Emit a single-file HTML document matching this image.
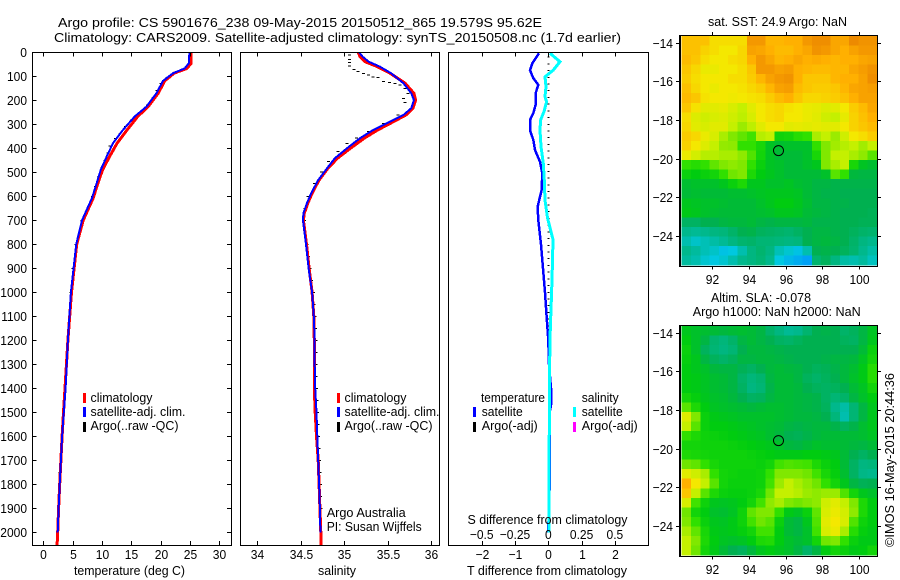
<!DOCTYPE html>
<html>
<head>
<meta charset="utf-8">
<title>Argo profile</title>
<style>
html,body{margin:0;padding:0;background:#fff;}
svg{display:block;}
text{font-family:"Liberation Sans",sans-serif;font-size:13px;fill:#000;}
.frame{fill:none;stroke:#000;stroke-width:1;shape-rendering:crispEdges;}
.curve{fill:none;stroke-linejoin:miter;shape-rendering:crispEdges;}
</style>
</head>
<body>
<svg id="chart" xmlns="http://www.w3.org/2000/svg" width="900" height="580" viewBox="0 0 900 580">
<rect width="900" height="580" fill="#fff"/>
<text x="58" y="27" textLength="484" lengthAdjust="spacingAndGlyphs">Argo profile: CS 5901676_238 09-May-2015 20150512_865 19.579S 95.62E</text>
<text x="54" y="42" textLength="567" lengthAdjust="spacingAndGlyphs">Climatology: CARS2009. Satellite-adjusted climatology: synTS_20150508.nc (1.7d earlier)</text>

<g id="maps"></g>
<g id="plots"></g>

<rect class="frame" x="32.5" y="52.5" width="199" height="493"/>
<rect class="frame" x="240.5" y="52.5" width="199" height="493"/>
<rect class="frame" x="448.5" y="52.5" width="200" height="493"/>
<path d="M680.5 35.5H877.5V266.5H680.5ZM679.5 35V267M680 266.5H878" fill="none" stroke="#000" stroke-width="1" shape-rendering="crispEdges"/>
<path d="M680.5 325.5H877.5V556.5H680.5ZM679.5 325V557M680 556.5H878" fill="none" stroke="#000" stroke-width="1" shape-rendering="crispEdges"/>

<text x="74" y="575" textLength="111" lengthAdjust="spacingAndGlyphs">temperature (deg C)</text>
<text x="318" y="575" textLength="38" lengthAdjust="spacingAndGlyphs">salinity</text>
<text x="467" y="575" textLength="160" lengthAdjust="spacingAndGlyphs">T difference from climatology</text>
<text x="467.5" y="524" textLength="160" lengthAdjust="spacingAndGlyphs">S difference from climatology</text>

<g>
<rect x="83" y="393" width="3" height="10" fill="#f00"/>
<rect x="83" y="407" width="3" height="10" fill="#00f"/>
<rect x="83" y="422" width="3" height="10" fill="#000"/>
<text x="90.5" y="402" textLength="62" lengthAdjust="spacingAndGlyphs">climatology</text>
<text x="90.5" y="416" textLength="95" lengthAdjust="spacingAndGlyphs">satellite-adj. clim.</text>
<text x="90.5" y="430" textLength="88" lengthAdjust="spacingAndGlyphs">Argo(..raw -QC)</text>
</g>
<g>
<rect x="337" y="393" width="3" height="10" fill="#f00"/>
<rect x="337" y="407" width="3" height="10" fill="#00f"/>
<rect x="337" y="422" width="3" height="10" fill="#000"/>
<text x="344.5" y="402" textLength="62" lengthAdjust="spacingAndGlyphs">climatology</text>
<text x="344.5" y="416" textLength="95" lengthAdjust="spacingAndGlyphs">satellite-adj. clim.</text>
<text x="344.5" y="430" textLength="88" lengthAdjust="spacingAndGlyphs">Argo(..raw -QC)</text>
</g>
<text x="326.7" y="517" textLength="79" lengthAdjust="spacingAndGlyphs">Argo Australia</text>
<text x="326.7" y="531" textLength="95" lengthAdjust="spacingAndGlyphs">PI: Susan Wijffels</text>
<g>
<text x="481" y="402" textLength="64" lengthAdjust="spacingAndGlyphs">temperature</text>
<rect x="473" y="407" width="3" height="10" fill="#00f"/>
<rect x="473" y="422" width="3" height="10" fill="#000"/>
<text x="481.7" y="416" textLength="41" lengthAdjust="spacingAndGlyphs">satellite</text>
<text x="481.7" y="430" textLength="56" lengthAdjust="spacingAndGlyphs">Argo(-adj)</text>
<text x="581.7" y="402" textLength="37" lengthAdjust="spacingAndGlyphs">salinity</text>
<rect x="573" y="407" width="3" height="10" fill="#0ff"/>
<rect x="573" y="422" width="3" height="10" fill="#f0f"/>
<text x="581.7" y="416" textLength="41" lengthAdjust="spacingAndGlyphs">satellite</text>
<text x="581.7" y="430" textLength="56" lengthAdjust="spacingAndGlyphs">Argo(-adj)</text>
</g>

<text x="708" y="26" textLength="139" lengthAdjust="spacingAndGlyphs">sat. SST: 24.9 Argo: NaN</text>
<text x="711" y="302" textLength="100" lengthAdjust="spacingAndGlyphs">Altim. SLA: -0.078</text>
<text x="692.7" y="316" textLength="168" lengthAdjust="spacingAndGlyphs">Argo h1000: NaN h2000: NaN</text>
<text transform="translate(894,547) rotate(-90)" textLength="174" lengthAdjust="spacingAndGlyphs">©IMOS 16-May-2015 20:44:36</text>
</svg>

<script>
// ---------- temperature profile data ----------
const tempDepths = [0,46,67,87,119,170,226,267,323,378,434,489,545,607,700,800,1000,1200,1400,1500,1600,1700,1800,1900,2000];
const tempSatellite = [24.9,24.8,24.1,22.1,20.4,19.3,17.6,15.6,13.6,11.9,10.8,9.8,9.1,8.3,6.6,5.6,4.7,4.2,3.8,3.5,3.2,3.0,2.8,2.6,2.45];
const tempClimDepths = [0,46,67,87,119,170,226,267,323,378,434,489,545,607,700,800,1000,1200,1400,1500,1600,1700,1800,1900,2000,2053];
const tempClimatology = [25.2,25.2,24.5,22.3,20.7,19.6,17.9,16.1,14.3,12.6,11.3,10.1,9.3,8.5,6.8,5.7,4.8,4.2,3.7,3.45,3.2,3.0,2.8,2.6,2.45,2.35];
const tempArgoDepths = [20,50,70,85,105,130,160,190,220,250,280,310,340,360,390,420,450,480,520,560,600,700,800,900,1000,1100,1200,1300,1400,1450,1500,1550,1600,1650,1700,1750,1800,1850,1900,1950];
const tempArgo = [24.8,24.7,24.2,22.3,21.0,20.0,19.3,18.6,17.7,16.4,15.0,13.9,13.0,12.2,11.3,10.9,10.4,9.9,9.3,8.8,8.3,6.5,5.5,5.0,4.6,4.4,4.2,4.0,3.7,3.6,3.4,3.3,3.2,3.1,2.9,2.8,2.7,2.65,2.55,2.45];

// ---------- salinity profile data ----------
const salDepths = [0,18,39,60,88,129,171,199,233,261,296,324,358,400,442,484,532,587,629,671,699,800,900,1000,1100,1200,1300,1400,1500,1600,1700,1800,1900,2000];
const salSatellite = [35.17,35.21,35.28,35.41,35.54,35.68,35.77,35.80,35.77,35.68,35.49,35.33,35.18,35.03,34.89,34.80,34.70,34.62,34.57,34.53,34.525,34.56,34.59,34.63,34.65,34.66,34.66,34.665,34.68,34.69,34.70,34.71,34.72,34.725];
const salClimDepths = [0,18,39,60,88,129,171,199,233,261,296,324,358,400,442,484,532,587,629,671,699,800,900,1000,1100,1200,1300,1400,1500,1600,1700,1800,1900,2000,2053];
const salClimatology = [35.16,35.18,35.24,35.38,35.53,35.70,35.80,35.82,35.79,35.71,35.53,35.38,35.23,35.07,34.92,34.81,34.71,34.63,34.58,34.54,34.53,34.565,34.595,34.63,34.65,34.655,34.655,34.655,34.665,34.68,34.70,34.71,34.72,34.73,34.73];
const salArgoDepths = [11,29,43,57,71,81,88,95,102,106,122,125,129,136,150,171,192,210,261,296,331,358,379,414,456,498,546,600,650,700,750,800,850,900,950,1000,1050,1100,1150,1200,1250,1300,1350,1400,1450,1500,1550,1600,1650,1700,1750,1800,1850,1900];
const salArgo = [35.06,35.06,35.06,35.06,35.11,35.16,35.22,35.28,35.33,35.39,35.45,35.52,35.58,35.64,35.70,35.73,35.68,35.70,35.62,35.45,35.28,35.14,35.03,34.93,34.82,34.74,34.66,34.585,34.55,34.54,34.55,34.574,34.589,34.604,34.624,34.644,34.654,34.664,34.669,34.674,34.674,34.674,34.677,34.679,34.686,34.694,34.699,34.704,34.709,34.714,34.719,34.724,34.729,34.734];

// ---------- difference panel data ----------
const diffTDepths = [4,46,74,108,136,171,213,254,282,324,365,407,456,505,574,644,699,800,900,1000,1100,1200,1300,1400,1470,1500,1600,1800,1850,2000];
const diffTSatellite = [-0.28,-0.48,-0.55,-0.45,-0.30,-0.38,-0.37,-0.45,-0.55,-0.55,-0.45,-0.40,-0.25,-0.18,-0.20,-0.32,-0.30,-0.22,-0.16,-0.10,-0.05,0,0.02,0.08,0.08,0.04,0.05,0.05,0.02,0];
const diffSDepths = [4,39,74,102,143,185,206,247,282,324,393,463,532,616,692,780,900,1000,1150,1300,1500,1700,2000];
const diffSSatellite = [0.0125,0.0875,0.0375,-0.025,-0.0175,-0.025,-0.0125,-0.0325,-0.0575,-0.0625,-0.055,-0.0375,-0.03,-0.025,-0.005,0.035,0.03,0.025,0.015,0.01,0.008,0.006,0.005];
const diffArgoDepths = [20,48,76,104,132,160,188,216,244,272,300,328,356,384,412,440,468,496,524,552,580,608,636,664,692,720,748,776,804,832,860,888,916,944,972,1000,1028,1056,1084,1112,1140,1168,1196];
const diffArgoValues = [0,0,0,0,0,0,0,0,0,0,0,0,0,0,0,0,0,0,0,0,0,0,0,0,0,0,0,0,0,0,0,0,0,0,0,0,0,0,0,0,0,0,0];

// ---------- tick labels ----------
const depthTicks = [0,100,200,300,400,500,600,700,800,900,1000,1100,1200,1300,1400,1500,1600,1700,1800,1900,2000];
const tempTicks = [0,5,10,15,20,25,30];
const salTicks = [34,34.5,35,35.5,36];
const diffTTicks = [-2,-1,0,1,2];
const diffSTicks = [-0.5,-0.25,0,0.25,0.5];
const lonTicks = [92,94,96,98,100];
const latTicks = [-14,-16,-18,-20,-22,-24];

// ---------- map data (colour level per 0.5 degree cell, read by eye) ----------
const sstLevels = [
[8.7,8.7,8.7,8.2,8.2,8.2,8.2,9.5,9.5,8.9,8.9,9,9,9.5,9.7,9.7,9.2,9.2,9.8,9.6,9.6],
[8.7,8.7,8.4,8.2,8,8,8.3,9.3,9.2,9,8.8,8.8,9,9.2,9.6,9.5,9.2,9,9.3,9.5,9.5],
[8.8,8.6,8.2,8,8,8.2,8.3,9,9.5,9.2,8.9,9,9.2,9,9.1,9,8.9,9,9,9.2,9.3],
[8.6,8.3,7.8,7.8,8,8,8.2,8.6,9.5,9.5,9.3,9.4,9,8.9,8.8,8.8,8.9,8.9,9.2,9.4,9.6],
[8.5,8.2,8,8,8,8.2,8.2,8.5,8.9,9.3,9.5,9.6,9,8.6,8.6,8.6,8.9,9,9,9.3,9.7],
[8.7,8.3,8,7.8,8,8,8.1,8.3,8.5,8.9,9.3,9.4,8.8,8.6,8.5,8.5,8.6,8.9,9.2,9.3,9.4],
[8.8,8.6,8.1,8,8,7.9,8,8.1,8.2,8.5,8.8,9,8.6,8.3,8.3,8.4,8.5,8.7,9,9.3,9.3],
[8.6,8.1,7.6,7.6,7.7,7.4,7,7.6,8,8.2,8.3,8.1,8,7.8,7.7,7.5,7.6,8,8.5,8.8,9.2],
[8.2,7.5,7.2,7.4,7.5,7.2,6.9,7.4,8,8.2,8.3,8,8,7.8,7.6,7.2,7,7.7,8.4,8.7,9],
[8.3,7.6,7.4,7.6,7.6,7,6.4,6.9,7.6,8,8,7.6,7.7,7.6,7.7,7.6,7.6,8,8.4,8.6,8.8],
[8.5,8.3,7.8,7.4,6.6,6,5.6,5.2,6.8,7,4.3,4.4,4.8,5,6.6,7,6.4,7.2,8,8.2,8.5],
[8.4,8,7.5,7,6.3,6.2,5,5,4.5,3.7,3.5,3.6,3.6,3.6,5,6,6.5,6.8,7,6.5,7],
[7.8,7.3,6.8,6.8,6.6,6.6,6.2,5.4,4.4,3.7,3.4,3.4,3.4,3.6,4.5,6,7,7,6.6,6.2,5.5],
[5,4.8,5,5.6,6,6.2,6,5,4.2,3.7,3.6,3.4,3.4,3.6,3.8,6,6.6,7,4.5,3.7,3.5],
[4.2,4,4.2,4.4,5,5.8,6,4.6,4,3.8,3.6,3.4,3.4,3.4,3.4,3.6,5.5,5,3.3,3.2,3.2],
[3.5,3.6,3.6,3.6,3.8,4.2,4.6,3.8,3.8,3.6,3.6,3.7,3.5,3.4,3.2,3.2,3.1,3.1,3.1,3.1,3.1],
[3.4,3.5,3.4,3.4,3.4,3.5,3.5,3.6,3.7,3.8,3.8,3.8,3.7,3.4,3.2,3.1,3.1,3,3,3,3],
[3.8,3.7,3.6,3.6,3.5,3.4,3.4,3.4,3.6,3.8,4,4,3.8,3.5,3.2,3.2,3.1,3.1,3,3,3],
[3.9,3.8,3.6,3.5,3.4,3.4,3.4,3.4,3.5,3.6,3.8,3.8,3.7,3.4,3.3,3.2,3.1,3,3,3,2.9],
[2.7,2.7,3,3,3.2,3.3,3.3,3.4,3.2,3.1,3.2,3.2,3.2,3.3,3.1,3.1,3.1,3,3,2.9,2.9],
[2,1.9,2,2.2,2.3,2.6,3,3.1,2.8,2.7,2.6,2.5,2.7,3,3.2,3.2,3.1,3,2.8,2.6,2.5],
[1.6,1.3,1.5,1.7,1.9,2.2,2.5,2.6,2.4,2.4,2.3,2.2,2.3,3,3.2,3.3,3.2,3,2.6,2.2,2],
[2,1.8,1.5,1.3,0.9,1,1.6,2.2,2.5,2.2,1.5,1.2,0.9,1.6,3,3.1,3,2.8,2.5,2,1.7],
[1.8,1.6,1.2,1,1.2,1.6,2,2.2,2.4,2,1,0.7,0.5,0.3,2.5,2.8,2.2,1.7,1.6,1.8,1.4]
];
const slaLevels = [
[3.8,3.6,3.5,3.4,3.3,3.4,3.5,3.4,3.2,2.6,2.2,1.9,2,2.5,3,3.1,3,2.6,2.8,3.2,3.7],
[4,3.6,3.2,2.5,2.3,2.6,3.2,3.4,3.2,3,2.7,2.6,2.8,3,3,3,3,2.8,2.7,3.2,3.8],
[4.2,3.6,2.8,2.4,2.2,2.4,3,3.3,3.3,3.2,3.1,3,3,3,3,3,3,3,3,3.4,4.2],
[4.1,3.8,3.2,2.8,2.6,2.8,3.2,3.2,3.3,3.3,3.2,3.1,3,3,3,3.1,3.2,3.2,3.3,3.7,4.4],
[4,3.8,3.6,3.3,3.2,3.2,2.9,2.7,3,3.3,3.4,3.3,3.2,3,2.8,2.9,3.1,3.3,3.5,3.9,4.8],
[4,3.9,3.7,3.5,3.4,3.2,2.6,2.3,2.5,3.2,3.4,3.4,3.2,2.8,2.6,2.8,3,3.3,3.6,3.9,4.8],
[4,3.9,3.7,3.5,3.4,3.2,2.7,2.2,2.4,3.1,3.4,3.4,3.3,3,2.8,2.7,2.8,3,3.4,3.7,4.4],
[4.4,4.1,3.8,3.6,3.5,3.3,3,2.7,2.8,3.2,3.4,3.4,3.3,3.2,3.1,2.7,2.4,2.6,3.2,3.6,4],
[5.5,4.6,4,3.7,3.6,3.5,3.4,3.3,3.4,3.5,3.5,3.4,3.3,3.2,3.1,2.8,2,1.7,2.4,3.2,3.8],
[7.5,6,4.2,3.9,3.8,3.7,3.6,3.6,3.6,3.6,3.5,3.4,3.3,3.3,3.2,3,2.3,1.6,2.4,3.2,3.8],
[7,5.5,4.2,4,4,3.9,3.8,3.7,3.6,3.5,3.4,3.2,3.1,3.2,3.3,3.3,3.1,2.8,3.1,3.5,3.8],
[5,4.6,4.3,4.2,4.1,4,3.9,3.8,3.7,3.5,3.3,3,2.9,3.1,3.3,3.4,3.4,3.4,3.4,3.5,3.7],
[4.4,4.4,4.3,4.3,4.3,4.2,4.1,4,3.9,3.8,3.6,3.3,3.2,3.4,3.6,3.5,3.5,3.4,3.3,3.2,3.4],
[4.6,4.5,4.4,4.3,4.3,4.3,4.3,4.2,4.1,4,3.9,3.9,3.9,4,4,3.9,3.8,3.4,3,2.7,3],
[5.8,5.6,5,4.5,4.3,4.3,4.3,4.3,4.2,4.4,5.2,5.4,5.3,5.2,4.6,4.2,4,3.4,2.7,2.2,2.3],
[7.6,7.2,6.6,5,4.4,4.3,4.2,4.2,4.3,5,6,6,6,5.8,5.2,4.5,4.1,3.5,2.7,2.1,2],
[9,8,7,5.5,4.4,4.2,4.2,4.2,4.3,5.2,6.4,7,6.6,6.2,5.8,5,4.4,3.8,3.2,2.9,3],
[8.6,7,5.5,4.6,4.2,4.1,4.1,4.2,4.5,5.8,7,7,6.8,6.4,6.2,6.4,6.4,5.4,4.4,3.8,3.6],
[7.4,5.2,4.3,3.8,3.7,3.8,4,4.4,5.2,6.2,6.6,6,5.8,6,6.2,7.2,7.6,7,6,4.6,4],
[5.8,4.4,4,3.6,3.5,3.7,4.3,5.6,6,6,5,3.9,3.7,4.2,5.6,7.4,7.8,7.3,6.2,4.6,4],
[6,5,4.2,3.8,3.7,3.9,4.3,5.2,5.8,5.5,4.2,3.4,3.2,3.8,5.4,7.6,8,7.4,5.4,4.3,4],
[6.6,5.6,4.5,3.9,3.8,3.9,4.1,4.4,5.2,5.2,4,3.4,3.2,3.6,5.2,7.4,7.8,6.6,4.8,4.1,3.9],
[7,6,4.6,4,3.7,3.6,3.7,4,4.6,4.7,4,3.6,3.4,3.6,4.4,5.8,6,5,4.2,3.9,3.9],
[7,5.8,4.4,3.9,3.4,3,2.8,3.3,3.8,4,3.8,3.6,3.2,2.6,3.2,4,4.4,4.2,3.9,4,4.4]
];
const floatLon = 95.62;
const floatLat = -19.58;

// ---------- axis functions ----------
const SVGNS = 'http://www.w3.org/2000/svg';
const depthY = d => 52.3 + d * 0.24;
const tempX = t => 43.3 + t * 5.867;
const salX = s => 257.3 + (s - 34) * 87;
const diffTX = v => 548.3 + v * 33.3;
const diffSX = v => 548.3 + v * 133.2;
const lonX = lon => 712.3 + (lon - 92) * 18.3;
const latY = (lat, top) => top + 7.7 + (-14 - lat) * 19.33;

const colorStops = [
[0,144,255],[0,200,224],[0,184,140],[0,176,80],[0,204,16],
[48,224,0],[128,232,0],[196,240,0],[244,232,0],[255,176,0],[232,128,0]
];
function levelColor(level){
  const i = Math.max(0, Math.min(9, Math.floor(level)));
  const f = Math.max(0, Math.min(1, level - i));
  const a = colorStops[i], b = colorStops[i + 1];
  return 'rgb(' + [0,1,2].map(k => Math.round(a[k] + (b[k] - a[k]) * f)).join(',') + ')';
}
function make(parent, tag, attrs, text){
  const el = document.createElementNS(SVGNS, tag);
  for (const k in attrs) el.setAttribute(k, attrs[k]);
  if (text !== undefined) el.textContent = text;
  parent.appendChild(el);
  return el;
}
const plots = document.getElementById('plots');
const maps = document.getElementById('maps');

function drawCurve(xs, ds, xFn, color, width, name){
  const pts = xs.map((v, i) => xFn(v).toFixed(1) + ',' + depthY(ds[i]).toFixed(1)).join(' ');
  const el = make(plots, 'polyline', {class:'curve', points:pts, stroke:color, 'stroke-width':width});
  
  
}
function drawMarks(xs, ds, xFn, w, name){
  xs.forEach((v, i) => {
    const el = make(plots, 'rect', {x:(xFn(v) - w / 2).toFixed(1), y:(depthY(ds[i]) - 0.5).toFixed(1), width:w, height:1, fill:'#000', 'shape-rendering':'crispEdges'});
    
    
  });
}
function tick(x1, y1, x2, y2, name){
  const el = make(plots, 'line', {x1:x1, y1:y1, x2:x2, y2:y2, stroke:'#000', 'stroke-width':1, 'shape-rendering':'crispEdges'});
  
  
}
function label(x, y, anchor, str, name){
  const el = make(plots, 'text', {x:x, y:y, 'text-anchor':anchor, style:'font-size:12px'}, str);
  
  
  const natural = el.getComputedTextLength();
  el.setAttribute('style', 'font-size:13px');
  el.setAttribute('textLength', natural.toFixed(1));
  el.setAttribute('lengthAdjust', 'spacingAndGlyphs');
}

// profile curves
drawMarks(tempArgo, tempArgoDepths, tempX, 2, 'argo-temperature-point');
drawCurve(tempClimatology, tempClimDepths, tempX, '#f00', 3, 'climatology-temperature-line');
drawCurve(tempSatellite, tempDepths, tempX, '#00f', 2, 'satellite-temperature-line');

drawMarks(salArgo, salArgoDepths, salX, 3, 'argo-salinity-point');
drawCurve(salClimatology, salClimDepths, salX, '#f00', 3, 'climatology-salinity-line');
drawCurve(salSatellite, salDepths, salX, '#00f', 2, 'satellite-salinity-line');

drawMarks(diffArgoValues, diffArgoDepths, diffTX, 2, 'argo-difference-point');
drawCurve(diffTSatellite, diffTDepths, diffTX, '#00f', 2.5, 'satellite-t-difference-line');
drawCurve(diffSSatellite, diffSDepths, diffSX, '#0ff', 3, 'satellite-s-difference-line');

// depth axis
depthTicks.forEach(d => {
  const y = Math.round(depthY(d)) + 0.5;
  tick(32, y, 36.5, y, 'depth-tick');
  tick(227, y, 231.5, y, 'depth-tick');
  label(27, y + 4.5, 'end', String(d), 'depth-tick-label');
});
// temperature axis
tempTicks.forEach(t => {
  const x = Math.round(tempX(t)) + 0.5;
  tick(x, 52, x, 56.5, 'temperature-tick');
  tick(x, 541, x, 545.5, 'temperature-tick');
  label(x, 559, 'middle', String(t), 'temperature-tick-label');
});
// salinity axis
salTicks.forEach(s => {
  const x = Math.round(salX(s)) + 0.5;
  tick(x, 52, x, 56.5, 'salinity-tick');
  tick(x, 541, x, 545.5, 'salinity-tick');
  label(x, 559, 'middle', String(s), 'salinity-tick-label');
});
// difference axes
diffTTicks.forEach(v => {
  const x = Math.round(diffTX(v)) + 0.5;
  tick(x, 52, x, 56.5, 't-difference-tick');
  tick(x, 541, x, 545.5, 't-difference-tick');
  label(x, 559, 'middle', v < 0 ? '\u2212' + (-v) : String(v), 't-difference-tick-label');
});
diffSTicks.forEach(v => {
  label(diffSX(v), 539, 'middle', v < 0 ? '\u2212' + (-v) : String(v), 's-difference-tick-label');
});

// maps
const lon0 = 90.33, lonStep = 0.508, lat0 = -13.65, latStep = -0.494;
function drawMap(levels, top, prefix){
  levels.forEach((row, r) => {
    row.forEach((level, c) => {
      const x0 = lonX(lon0 + c * lonStep), x1 = lonX(lon0 + (c + 1) * lonStep);
      const y0 = latY(lat0 + r * latStep, top), y1 = latY(lat0 + (r + 1) * latStep, top);
      const el = make(maps, 'rect', {x:x0.toFixed(2), y:y0.toFixed(2), width:(x1 - x0 + 0.3).toFixed(2), height:(y1 - y0 + 0.3).toFixed(2), fill:levelColor(level), 'shape-rendering':'crispEdges'});
      
      
    });
  });
  const bottom = top + 231.5;
  lonTicks.forEach(lon => {
    const x = Math.round(lonX(lon)) + 0.5;
    tick(x, top - 3, x, top, prefix + '-lon-tick');
    tick(x, bottom, x, bottom + 3, prefix + '-lon-tick');
    label(x, bottom + 17.5, 'middle', String(lon), prefix + '-lon-tick-label');
  });
  latTicks.forEach(lat => {
    const y = Math.round(latY(lat, top)) + 0.5;
    tick(676, y, 680, y, prefix + '-lat-tick');
    tick(877, y, 881, y, prefix + '-lat-tick');
    label(673, y + 4.5, 'end', '\u2212' + (-lat), prefix + '-lat-tick-label');
  });
  const marker = make(plots, 'circle', {cx:lonX(floatLon).toFixed(1), cy:latY(floatLat, top).toFixed(1), r:5, fill:'none', stroke:'#000', 'stroke-width':1});
  
  
}
drawMap(sstLevels, 35, 'sst-map');
drawMap(slaLevels, 325, 'sla-map');
</script>
</body>
</html>
